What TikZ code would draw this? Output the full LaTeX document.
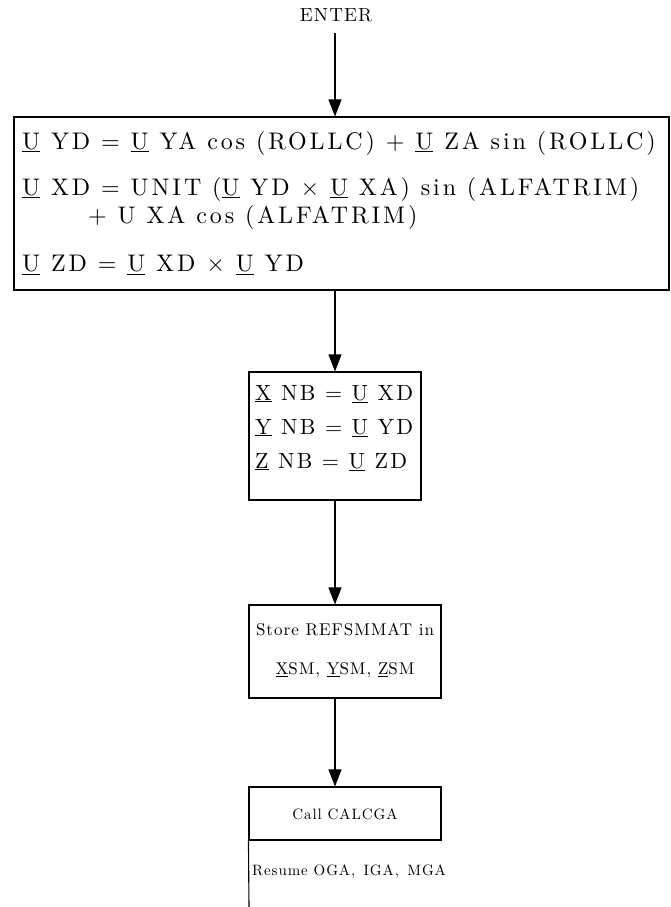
\documentclass[tikz,border=0pt]{standalone}
\usepackage{fontspec}
\usetikzlibrary{arrows.meta}
\newfontfamily\twA{lmroman10-regular.otf}[LetterSpace=12]
\newfontfamily\twM{lmroman10-regular.otf}[LetterSpace=10]
\newfontfamily\twB{lmroman10-regular.otf}[LetterSpace=6]
\newcommand\vu[1]{\underline{#1}}
\newcommand\bigtxt{\twA\fontsize{24}{28}\selectfont}
\newcommand\midtxt{\twM\fontsize{22}{26}\selectfont}
\newcommand\smtxt{\twB\fontsize{17}{20}\selectfont}
\newcommand\smmtxt{\twB\fontsize{15}{18}\selectfont}
\tikzset{
  box/.style={draw, line width=1.1pt, inner sep=0pt},
  conn/.style={line width=1.1pt, -{Triangle[length=17pt,width=13pt]}},
  plain/.style={line width=1.1pt},
  bt/.style={inner sep=0pt, anchor=west, font=\bigtxt},
  mt/.style={inner sep=0pt, anchor=west, font=\midtxt},
  st/.style={inner sep=0pt, font=\smtxt},
  sst/.style={inner sep=0pt, font=\smmtxt},
}
\begin{document}
\begin{tikzpicture}[x=1pt,y=-1pt]
\useasboundingbox (0,0) rectangle (670,907);
\node[inner sep=0pt, font=\twB\fontsize{19}{22}\selectfont] (enter) at (336,15) {ENTER};
\coordinate (start) at (335,33);
\node[box, minimum width=655pt, minimum height=173pt] (b1) at (341.5,203.5) {};
\node[bt] (l1) at (22,143) {\vu{U} YD = \vu{U} YA cos (ROLLC) + \vu{U} ZA sin (ROLLC)};
\node[bt] (l2) at (22,189) {\vu{U} XD = UNIT (\vu{U} YD × \vu{U} XA) sin (ALFATRIM)};
\node[bt] (l3) at (88,217) {+ U XA cos (ALFATRIM)};
\node[bt] (l4) at (22,265) {\vu{U} ZD = \vu{U} XD × \vu{U} YD};
\node[box, minimum width=172pt, minimum height=128pt] (b2) at (335,436) {};
\node[mt] (m1) at (255,394) {\vu{X} NB = \vu{U} XD};
\node[mt] (m2) at (255,428) {\vu{Y} NB = \vu{U} YD};
\node[mt] (m3) at (255,462) {\vu{Z} NB = \vu{U} ZD};
\node[box, minimum width=192pt, minimum height=93pt] (b3) at (345,651.5) {};
\node[st] (s1) at (345,630) {Store REFSMMAT in};
\node[st] (s2) at (345,670) {\vu{X}SM, \vu{Y}SM, \vu{Z}SM};
\node[box, minimum width=192pt, minimum height=53pt] (b4) at (345,813.5) {};
\node[sst] (c1) at (345,814) {Call CALCGA};
\node[sst, anchor=west] (c2) at (252,872) {Resume OGA,\, IGA,\, MGA};
\coordinate (bl) at (249,907);
\draw[conn] (start) -- (b1.north -| start);
\draw[conn] (b1.south -| start) -- (b2.north);
\draw[conn] (b2.south) -- (b3.north -| start);
\draw[conn] (b3.south -| start) -- (b4.north -| start);
\draw[plain] (b4.south west) -- (bl);
\end{tikzpicture}
\end{document}
